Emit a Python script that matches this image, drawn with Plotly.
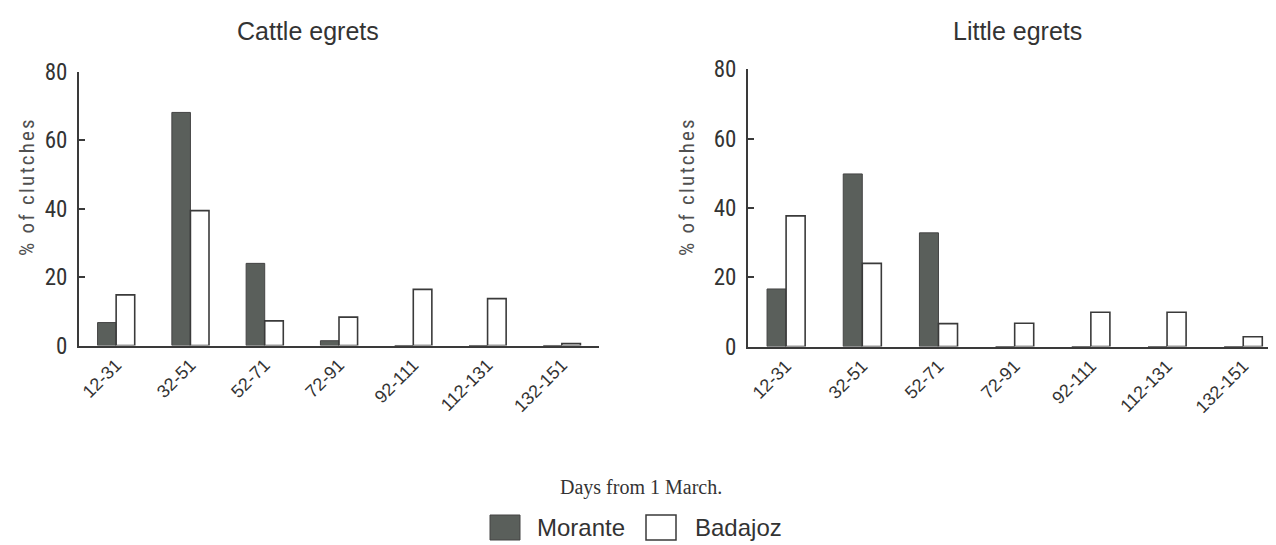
import plotly.graph_objects as go

categories = ["12-31", "32-51", "52-71", "72-91", "92-111", "112-131", "132-151"]
cattle_morante = [6.7, 68.1, 24.0, 1.4, 0, 0, 0]
cattle_badajoz = [14.8, 39.4, 7.2, 8.3, 16.4, 13.7, 0.6]
little_morante = [16.6, 49.8, 32.8, 0, 0, 0, 0]
little_badajoz = [37.7, 24.0, 6.6, 6.7, 9.9, 9.9, 2.8]
panel_titles = ["Cattle egrets", "Little egrets"]
series_names = ["Morante", "Badajoz"]
y_ticks = [0, 20, 40, 60, 80]
x_title = "Days from 1 March."
y_title = "% of clutches"

# page body has an 8px margin: the figure is sized to fit the 1276x545 window
OFF = 8
W, H = 1276 - OFF, 545 - OFF


def px(x):
    return (x - OFF) / W


def py(y):
    return (H - (y - OFF)) / H


DARK = "#5a5f5b"
LINE = "#3a3a3a"
TXT = "#333333"
NARROW = "Liberation Sans Narrow, Arial Narrow, Roboto Condensed, Liberation Sans, sans-serif"
SANS = "Liberation Sans, Arial, sans-serif"

fig = go.Figure()
panels = [(cattle_morante, cattle_badajoz, "x", "y"), (little_morante, little_badajoz, "x2", "y2")]
for mor, bad, xa, ya in panels:
    fig.add_trace(go.Bar(x=categories, y=mor, name=series_names[0], xaxis=xa, yaxis=ya,
                         marker=dict(color=DARK, line=dict(color="#444", width=1)), showlegend=False))
    fig.add_trace(go.Bar(x=categories, y=bad, name=series_names[1], xaxis=xa, yaxis=ya,
                         marker=dict(color="white", line=dict(color=LINE, width=1.6)), showlegend=False))


def xaxis(domain, rng, anchor):
    return dict(domain=domain, range=rng, type="category", showline=True, linecolor=LINE, linewidth=2,
                ticks="", showgrid=False, zeroline=False, tickangle=-45, automargin=False, anchor=anchor,
                tickfont=dict(family=SANS, size=18, color=TXT))


def yaxis(domain, anchor):
    return dict(domain=domain, range=[0, 80], tickvals=y_ticks, showline=True, linecolor=LINE, linewidth=2,
                ticks="inside", ticklen=6, tickwidth=1.5, tickcolor=LINE, showgrid=False, zeroline=False,
                anchor=anchor, ticklabelstandoff=5, automargin=False,
                tickfont=dict(family=NARROW, size=23, color=TXT))


fig.update_layout(
    width=W, height=H, margin=dict(l=0, r=0, t=0, b=0, pad=0, autoexpand=False),
    paper_bgcolor="white", plot_bgcolor="rgba(0,0,0,0)",
    barmode="group", bargap=0.5, bargroupgap=0, showlegend=False,
    xaxis=xaxis([px(79), px(599)], [-0.5, 6.5], "y"),
    yaxis=yaxis([py(345.5), py(71.7)], "x"),
    xaxis2=xaxis([px(748), 1.0], [-0.5, 6.43], "y2"),
    yaxis2=yaxis([py(346.5), py(69.3)], "x2"),
)

ann = []
for tx, cx in zip(panel_titles, [308, 1017]):
    ann.append(dict(text=tx, x=px(cx), y=py(31), xref="paper", yref="paper", showarrow=False,
                    xanchor="center", yanchor="middle", font=dict(family=SANS, size=25, color=TXT)))
for cx in [27, 687]:
    ann.append(dict(text='<span style="letter-spacing:2.2px">' + y_title + '</span>',
                    x=px(cx), y=py(187), xref="paper", yref="paper", showarrow=False,
                    textangle=-90, xanchor="center", yanchor="middle",
                    font=dict(family=NARROW, size=21, color="#505050")))
ann.append(dict(text=x_title, x=px(641), y=py(488), xref="paper", yref="paper", showarrow=False,
                xanchor="center", yanchor="middle",
                font=dict(family="Liberation Serif, Times New Roman, serif", size=20, color=TXT)))
ann.append(dict(text=series_names[0], x=px(535), y=py(527), xref="paper", yref="paper", showarrow=False,
                xanchor="left", yanchor="middle", font=dict(family=SANS, size=24, color=TXT)))
ann.append(dict(text=series_names[1], x=px(693), y=py(527), xref="paper", yref="paper", showarrow=False,
                xanchor="left", yanchor="middle", font=dict(family=SANS, size=24, color=TXT)))
fig.update_layout(annotations=ann)

shapes = [
    dict(type="rect", xref="paper", yref="paper", x0=px(490), x1=px(520), y0=py(540), y1=py(515),
         fillcolor=DARK, line=dict(color="#444", width=1)),
    dict(type="rect", xref="paper", yref="paper", x0=px(646), x1=px(676), y0=py(540), y1=py(515),
         fillcolor="white", line=dict(color=LINE, width=1.5)),
]
fig.update_layout(shapes=shapes)

fig.write_html("out.html")
